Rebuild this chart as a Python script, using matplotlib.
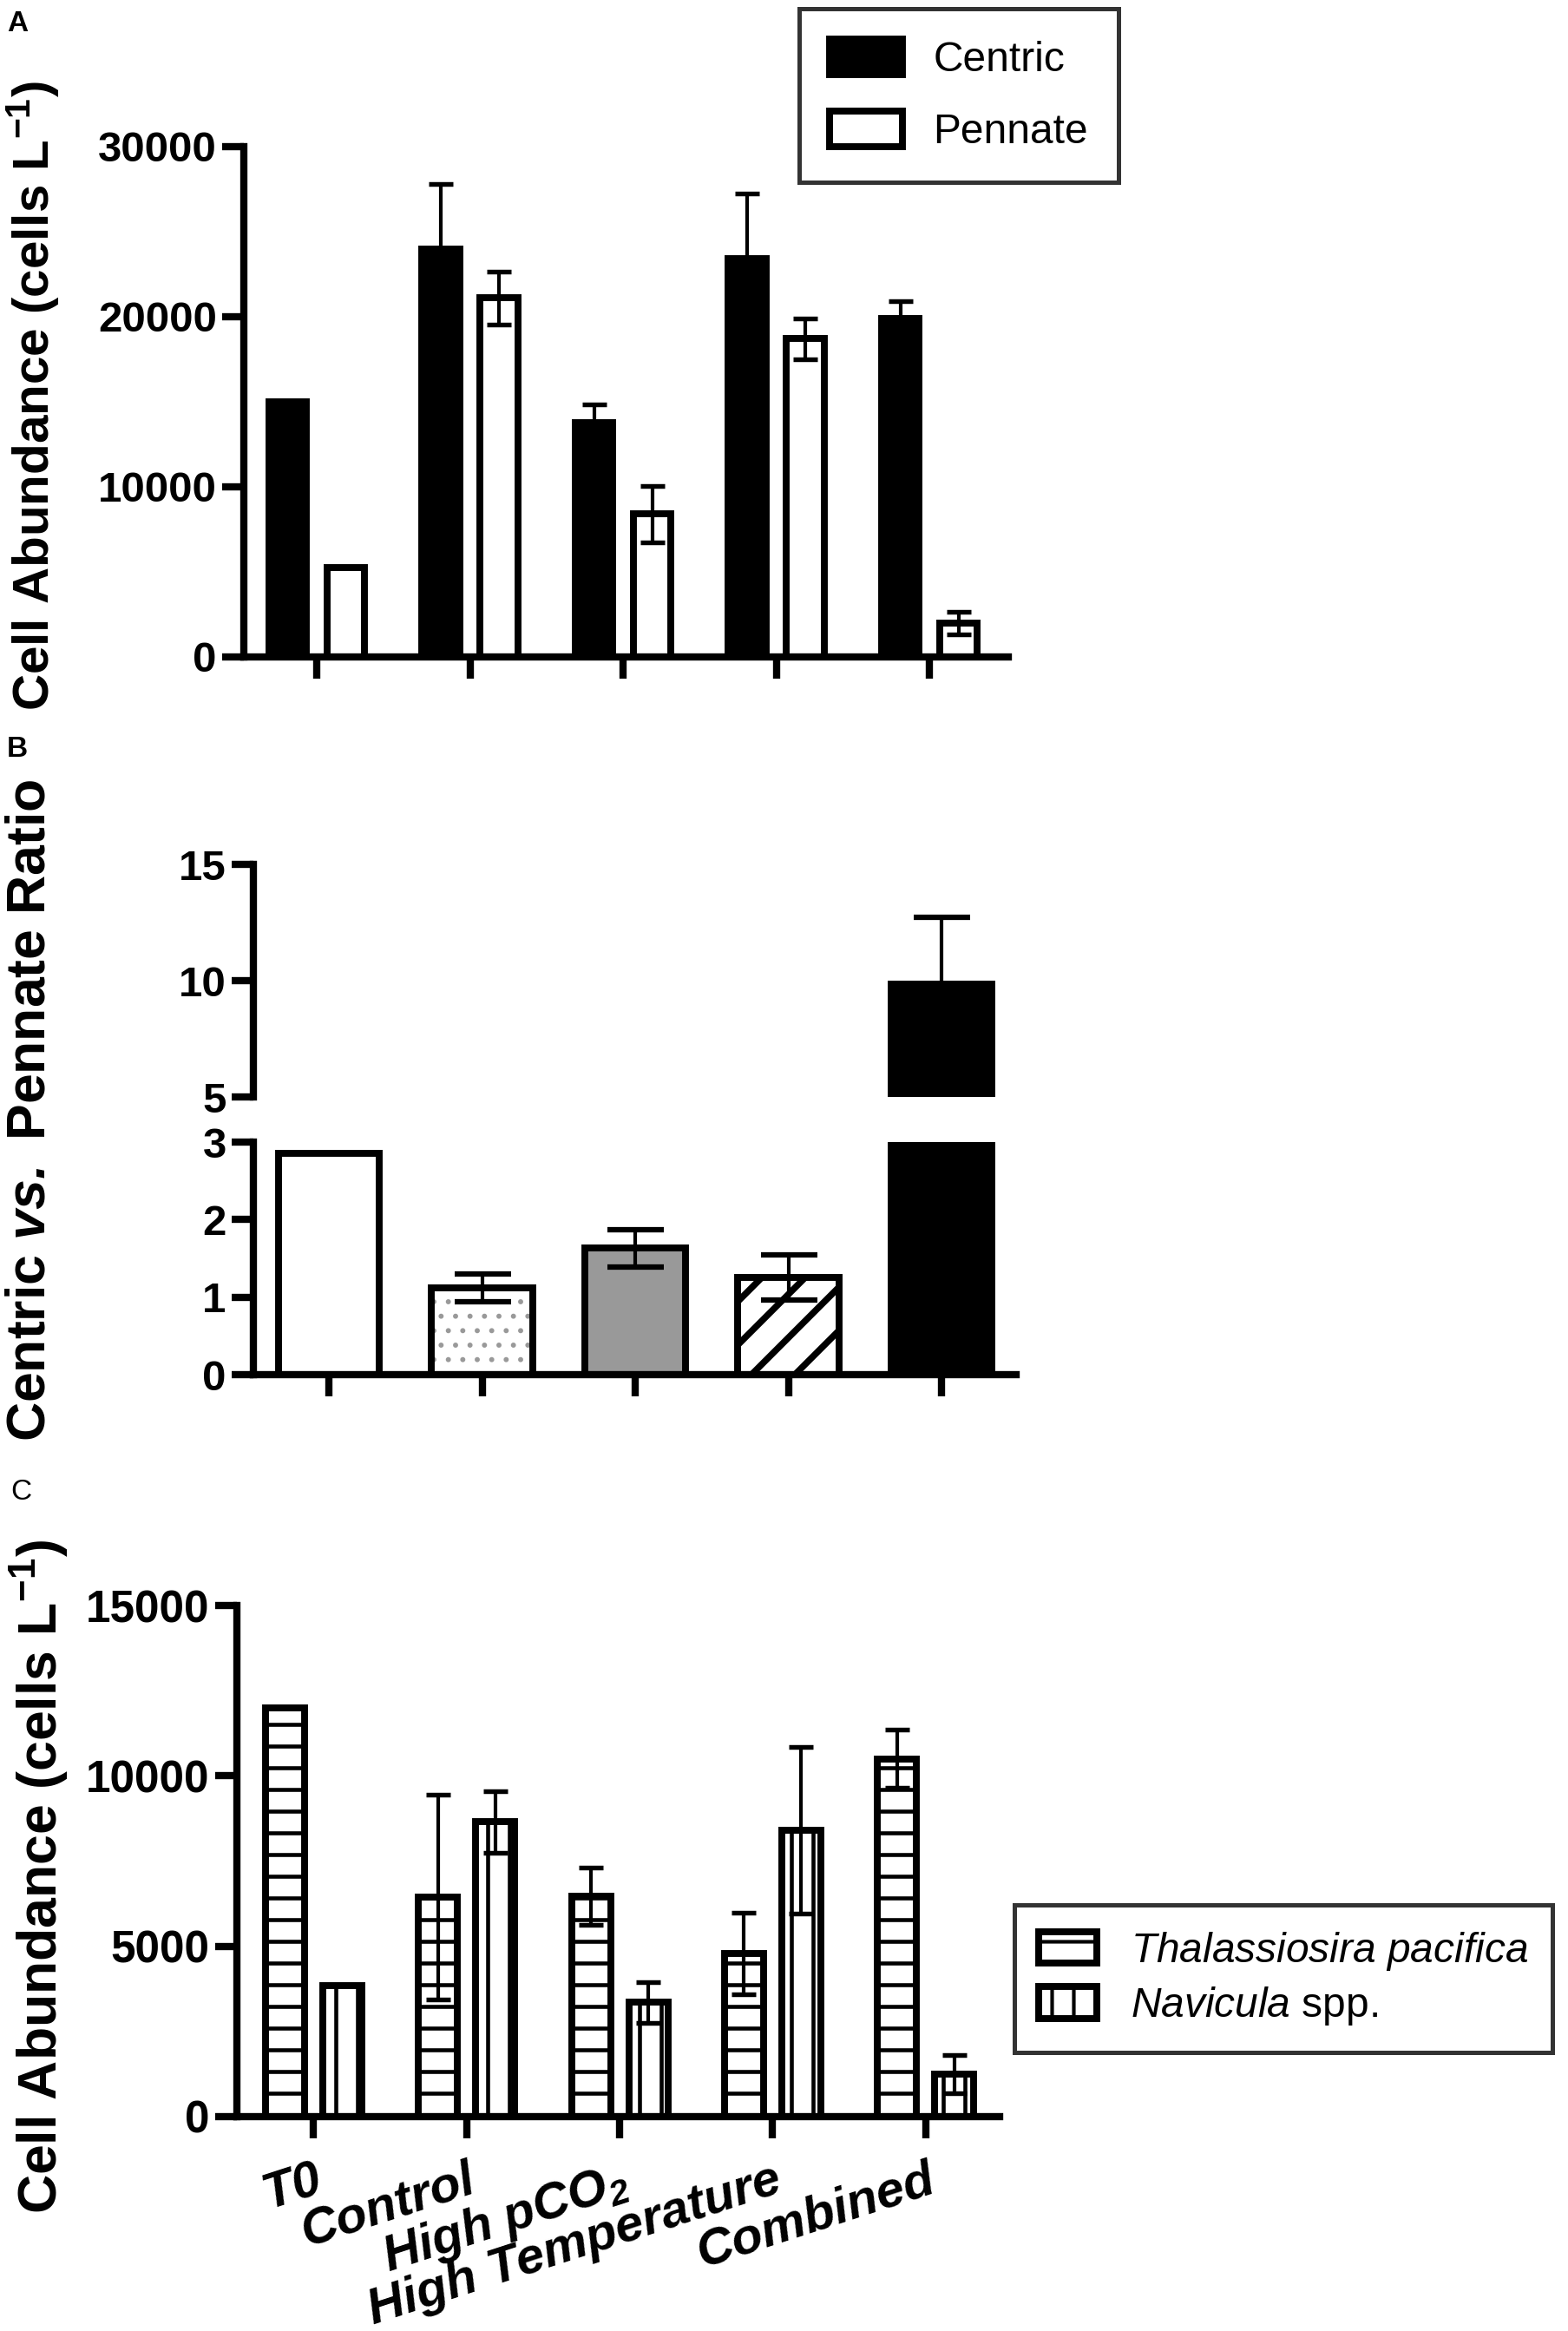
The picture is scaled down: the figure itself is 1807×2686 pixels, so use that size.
import numpy as np
import matplotlib
matplotlib.use('Agg')
import matplotlib.pyplot as plt

# ---------------- data ----------------
groups = ['T0', 'Control', 'High pCO$_2$', 'High Temperature', 'Combined']

centric = [15000, 24000, 13800, 23400, 19900]
centric_err = [0, 3800, 1050, 3850, 1000]
pennate = [5250, 21100, 8400, 18700, 2000]
pennate_err = [0, 1550, 1650, 1200, 650]

ratio = [2.85, 1.12, 1.63, 1.25, 9.85]
ratio_err = [0, 0.18, 0.24, 0.29, 2.87]

thalassiosira = [12000, 6450, 6480, 4780, 10500]
thalassiosira_err = [0, 3000, 840, 1200, 850]
navicula = [3850, 8650, 3350, 8400, 1250]
navicula_err = [0, 900, 590, 2450, 550]

# ---------------- style ----------------
W, H, DPI = 1807, 2686, 300
plt.rcParams['font.family'] = ['Liberation Sans', 'DejaVu Sans']
plt.rcParams['font.weight'] = 'bold'
plt.rcParams['mathtext.fontset'] = 'custom'
plt.rcParams['mathtext.rm'] = 'Liberation Sans:regular'
plt.rcParams['mathtext.it'] = 'Liberation Sans:italic:regular'
plt.rcParams['mathtext.bf'] = 'Liberation Sans:bold'
plt.rcParams['mathtext.bfit'] = 'Liberation Sans:italic:bold'
plt.rcParams['mathtext.default'] = 'regular'
plt.rcParams['axes.linewidth'] = 2.0

SP_LW = 2.0
EDGE_LW = 1.9
TICK_FS = 11.8

fig = plt.figure(figsize=(W / DPI, H / DPI), dpi=DPI)


def ax_px(left, top, right, bottom):
    return fig.add_axes([left / W, 1 - bottom / H, (right - left) / W, (bottom - top) / H])


def style_axis(ax, fs=TICK_FS, bottom=True):
    for s in ['top', 'right']:
        ax.spines[s].set_visible(False)
    for s in ['left', 'bottom']:
        ax.spines[s].set_linewidth(SP_LW)
    ax.tick_params(axis='y', length=6, width=SP_LW, pad=1.5, labelsize=fs)
    ax.tick_params(axis='x', length=6, width=SP_LW, labelbottom=False)
    if not bottom:
        ax.spines['bottom'].set_visible(False)
        ax.tick_params(axis='x', bottom=False)
    for lab in ax.get_yticklabels():
        lab.set_fontweight('bold')


def err(ax, x, y, e, capsize=3.3, capthick=1.3):
    x = np.asarray(x, float); y = np.asarray(y, float); e = np.asarray(e, float)
    m = e > 0
    ax.errorbar(x[m], y[m], yerr=e[m], fmt='none', ecolor='black',
                elinewidth=1.0, capsize=capsize, capthick=capthick, zorder=3)


def hbar(ax, x, y, width, hatch_lw=None, **kw):
    if hatch_lw is not None:
        with plt.rc_context({'hatch.linewidth': hatch_lw}):
            bars = ax.bar(x, y, width, **kw)
        for b in bars:
            if hasattr(b, 'set_hatch_linewidth'):
                b.set_hatch_linewidth(hatch_lw)
    else:
        bars = ax.bar(x, y, width, **kw)
    return bars


x = np.arange(len(groups))

# ---------------- Panel A ----------------
axA = ax_px(281, 169, 1162, 757)
off, bw = 0.19, 0.245
axA.bar(x - off, centric, bw, color='black', edgecolor='black', linewidth=EDGE_LW,
        label='Centric', zorder=1)
axA.bar(x + off, pennate, bw, color='white', edgecolor='black', linewidth=EDGE_LW,
        label='Pennate', zorder=1)
err(axA, x - off, centric, centric_err)
err(axA, x + off, pennate, pennate_err)
axA.set_xlim(-0.476, 4.515)
axA.set_ylim(0, 30000)
axA.set_yticks([0, 10000, 20000, 30000])
axA.set_xticks(x)
style_axis(axA)
legA = fig.legend(loc='center', bbox_to_anchor=((912 + 1298) / 2 / W, 1 - 110 / H),
                  prop={'size': 11.5, 'weight': 'normal'}, frameon=True, fancybox=False,
                  borderpad=0.72, labelspacing=0.75, handlelength=1.75, handleheight=0.95,
                  handletextpad=0.75)
legA.get_frame().set_edgecolor('black')
legA.get_frame().set_linewidth(1.2)

# ---------------- Panel B (broken axis) ----------------
axBt = ax_px(292, 996, 1171, 1264)
axBb = ax_px(292, 1316, 1171, 1584)
bwB = 0.66
b_face = ['white', 'white', '#999999', 'white', 'black']
for ax in (axBt, axBb):
    # dotted background for Control
    hbar(ax, x[1:2], ratio[1:2], bwB, hatch_lw=0.6, color='white', edgecolor='#999999',
         hatch='...', linewidth=0, zorder=1)
    for i in range(len(groups)):
        if i == 1:
            ax.bar(x[i], ratio[i], bwB, facecolor='none', edgecolor='black',
                   linewidth=EDGE_LW, zorder=1.5)
        elif i == 3:
            hbar(ax, x[i:i + 1], ratio[i:i + 1], bwB, hatch_lw=1.8, color='white',
                 edgecolor='black', hatch='//', linewidth=EDGE_LW, zorder=1)
        else:
            ax.bar(x[i], ratio[i], bwB, color=b_face[i], edgecolor='black',
                   linewidth=EDGE_LW, zorder=1)
    err(ax, x, ratio, ratio_err, capsize=7.8, capthick=1.5)
    ax.set_xlim(-0.493, 4.487)
    ax.set_xticks(x)

axBt.set_ylim(5, 15)
axBt.set_yticks([5, 10, 15])
style_axis(axBt, bottom=False)
axBb.set_ylim(0, 3)
axBb.set_yticks([0, 1, 2, 3])
style_axis(axBb)

# ---------------- Panel C ----------------
axC = ax_px(273, 1850, 1152, 2439)
offC, bwC = 0.187, 0.255
hbar(axC, x - offC, thalassiosira, bwC, hatch_lw=1.1, color='white', edgecolor='black',
     hatch='--', linewidth=EDGE_LW, label='$\\it{Thalassiosira\\ pacifica}$', zorder=1)
hbar(axC, x + offC, navicula, bwC, hatch_lw=1.1, color='white', edgecolor='black',
     hatch='||', linewidth=EDGE_LW, label='$\\it{Navicula}$ spp.', zorder=1)
err(axC, x - offC, thalassiosira, thalassiosira_err)
err(axC, x + offC, navicula, navicula_err)
axC.set_xlim(-0.499, 4.482)
axC.set_ylim(0, 15000)
axC.set_yticks([0, 5000, 10000, 15000])
axC.set_xticks(x)
style_axis(axC, fs=12.3)
axC.tick_params(axis='x', labelbottom=True, pad=5)
axC.set_xticklabels(groups, rotation=18, ha='right', va='top', rotation_mode='anchor',
                    fontsize=14, fontstyle='italic', fontweight='bold')
legC = axC.legend(loc='center', bbox_to_anchor=((1159 + 1799) / 2 / W, 1 - 2280 / H),
                  bbox_transform=fig.transFigure,
                  prop={'size': 11.5, 'weight': 'normal'}, frameon=True, fancybox=False,
                  borderpad=0.6, labelspacing=0.3, handlelength=1.4, handleheight=0.8,
                  handletextpad=0.8)
legC.get_frame().set_edgecolor('black')
legC.get_frame().set_linewidth(1.2)

# ---------------- labels ----------------
fig.text(8 / W, 1 - 12 / H, 'A', fontsize=8, fontweight='bold', va='top', ha='left')
fig.text(8 / W, 1 - 848 / H, 'B', fontsize=8, fontweight='bold', va='top', ha='left')
fig.text(12 / W, 1 - 1704 / H, 'C', fontsize=8, fontweight='normal', va='top', ha='left')

fig.text(38 / W, 1 - 456 / H, 'Cell Abundance (cells L$^{-1}$)', rotation=90,
         ha='center', va='center', fontsize=14, fontweight='bold')
fig.text(35 / W, 1 - 1279 / H, 'Centric $\\mathbfit{vs.}$ Pennate Ratio', rotation=90,
         ha='center', va='center', fontsize=15, fontweight='bold')
fig.text(45 / W, 1 - 2163 / H, 'Cell Abundance (cells L$^{-1}$)', rotation=90,
         ha='center', va='center', fontsize=15, fontweight='bold')

fig.savefig('out.png', dpi=DPI)
